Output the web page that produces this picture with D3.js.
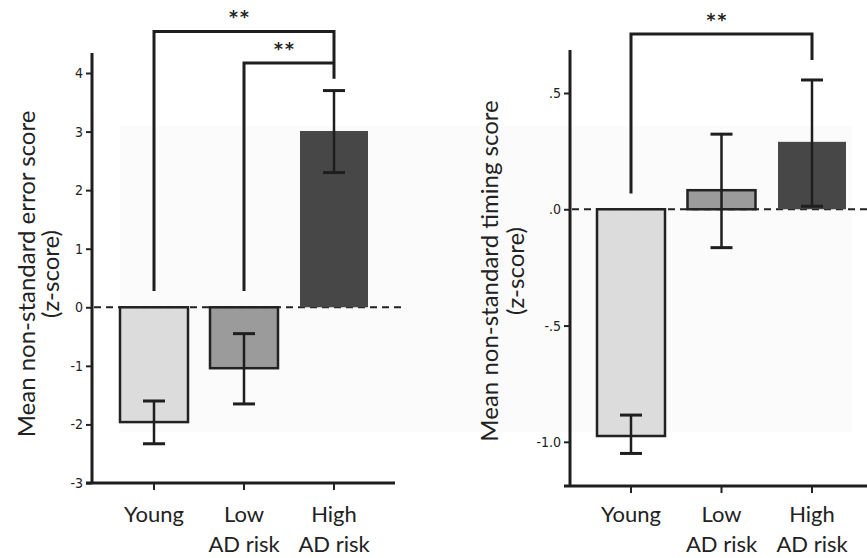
<!DOCTYPE html>
<html>
<head>
<meta charset="utf-8">
<title>Non-standard scores</title>
<script src="https://cdn.jsdelivr.net/npm/d3@7"></script>
<style>
  body { margin: 0; background: #fff; }
  svg { display: block; }
  .lab { font-family: Lato, "Open Sans", sans-serif; font-size: 22px; fill: #222; }
  .ylab { font-size: 24px; }
  .tick text { font-family: "DejaVu Sans Condensed", "Liberation Sans Narrow", sans-serif; font-stretch: condensed; font-size: 14px; fill: #222; }
  .stars { font-family: "DejaVu Sans", sans-serif; font-size: 17px; font-weight: bold; fill: #222; letter-spacing: 2px; }
</style>
</head>
<body>
<div id="chart"></div>
<script>
// groups shared by both panels
var categories = ["Young", "Low AD risk", "High AD risk"];
var catLines = [["Young"], ["Low", "AD risk"], ["High", "AD risk"]];
var barColors = ["#dcdcdc", "#9b9b9b", "#474747"];

// left panel: error score
var errorMeans = [-1.96, -1.04, 3.01];
var errorLow = [-2.33, -1.65, 2.30];
var errorHigh = [-1.60, -0.45, 3.70];
var errorTicks = [-3, -2, -1, 0, 1, 2, 3, 4];
var errorTickLabels = ["-3", "-2", "-1", "0", "1", "2", "3", "4"];

// right panel: timing score
var timingMeans = [-0.975, 0.082, 0.29];
var timingLow = [-1.05, -0.165, 0.013];
var timingHigh = [-0.885, 0.323, 0.556];
var timingTicks = [-1.0, -0.5, 0, 0.5];
var timingTickLabels = ["-1.0", "-.5", ".0", ".5"];

var svg = d3.select("#chart").append("svg").attr("width", 867).attr("height", 558);

// faint scan shading behind both panels
svg.append("rect").attr("x", 120).attr("y", 126).attr("width", 732).attr("height", 306)
    .attr("fill", "#fbfbfb");

function panel(opt) {
    var y = d3.scaleLinear().domain(opt.yDomain).range(opt.yRange);
    var x = d3.scalePoint().domain(categories).range(opt.xRange);
    var g = svg.append("g");
    var bw = 68;

    // zero line, dashed
    g.append("line").attr("x1", opt.axisX0 + 2).attr("x2", opt.axisX1 + 6)
        .attr("y1", y(0)).attr("y2", y(0))
        .attr("stroke", "#222").attr("stroke-width", 2).attr("stroke-dasharray", "7,5");

    // bars
    g.selectAll("rect.bar").data(opt.means).enter().append("rect")
        .attr("class", "bar")
        .attr("x", function(d, i) { return x(categories[i]) - bw / 2; })
        .attr("width", bw)
        .attr("y", function(d) { return y(Math.max(0, d)); })
        .attr("height", function(d) { return Math.abs(y(d) - y(0)); })
        .attr("fill", function(d, i) { return barColors[i]; })
        .attr("stroke", function(d, i) { return i < 2 ? "#222" : "none"; })
        .attr("stroke-width", 2.5);

    // error bars
    var eb = g.selectAll("g.err").data(opt.means).enter().append("g").attr("class", "err")
        .attr("stroke", "#1e1e1e").attr("stroke-width", 2.5);
    eb.append("line")
        .attr("x1", function(d, i) { return x(categories[i]); })
        .attr("x2", function(d, i) { return x(categories[i]); })
        .attr("y1", function(d, i) { return y(opt.lo[i]); })
        .attr("y2", function(d, i) { return y(opt.hi[i]); });
    [opt.lo, opt.hi].forEach(function(arr) {
        eb.append("line")
            .attr("x1", function(d, i) { return x(categories[i]) - 11; })
            .attr("x2", function(d, i) { return x(categories[i]) + 11; })
            .attr("y1", function(d, i) { return y(arr[i]); })
            .attr("y2", function(d, i) { return y(arr[i]); })
            .attr("stroke-width", 3);
    });

    // y axis
    var yAxis = d3.axisLeft(y).tickValues(opt.ticks).tickSize(6).tickPadding(3)
        .tickFormat(function(d, i) { return opt.tickLabels[i]; });
    var ya = g.append("g").attr("transform", "translate(" + opt.axisX0 + ",0)").call(yAxis);
    ya.select(".domain").remove();
    ya.selectAll(".tick line").attr("stroke", "#222").attr("stroke-width", 2);
    g.append("line").attr("x1", opt.axisX0).attr("x2", opt.axisX0)
        .attr("y1", y(opt.yDomain[0])).attr("y2", y(opt.yTop))
        .attr("stroke", "#1e1e1e").attr("stroke-width", 3);

    // x axis
    var xb = y(opt.yDomain[0]);
    g.append("line").attr("x1", opt.axisX0 - 6).attr("x2", opt.axisX1)
        .attr("y1", xb).attr("y2", xb)
        .attr("stroke", "#1e1e1e").attr("stroke-width", 3);
    g.selectAll("line.xt").data(categories).enter().append("line")
        .attr("x1", function(d) { return x(d); }).attr("x2", function(d) { return x(d); })
        .attr("y1", xb).attr("y2", xb + 7)
        .attr("stroke", "#222").attr("stroke-width", 2);
    var xl = g.selectAll("text.xl").data(catLines).enter().append("text")
        .attr("class", "lab").attr("text-anchor", "middle")
        .attr("x", function(d, i) { return x(categories[i]); })
        .attr("y", 522);
    xl.selectAll("tspan").data(function(d) { return d; }).enter().append("tspan")
        .attr("x", function() { return this.parentNode.getAttribute("x"); })
        .attr("dy", function(d, j) { return j === 0 ? 0 : 30; })
        .text(function(d) { return d; });

    // y label
    var yl = g.append("text").attr("class", "lab ylab").attr("text-anchor", "middle")
        .attr("transform", "translate(" + opt.labelX + "," + opt.labelY + ") rotate(-90)");
    yl.append("tspan").attr("x", 0).attr("y", 0).text(opt.label[0]);
    yl.append("tspan").attr("x", 0).attr("y", opt.labelGap).text(opt.label[1]);

    // significance brackets
    opt.brackets.forEach(function(b) {
        var x1 = x(b.from), x2 = x(b.to);
        var p = d3.path();
        p.moveTo(x1, y(b.start));
        p.lineTo(x1, y(b.top));
        p.lineTo(x2, y(b.top));
        if (b.end != null) p.lineTo(x2, y(b.end));
        g.append("path").attr("d", p.toString()).attr("fill", "none")
            .attr("stroke", "#1e1e1e").attr("stroke-width", 3);
        g.append("text").attr("class", "stars").attr("text-anchor", "middle")
            .attr("x", (x1 + x2) / 2 - 4).attr("y", y(b.top) - 8).text("**");
    });
}

panel({
    means: errorMeans, lo: errorLow, hi: errorHigh,
    ticks: errorTicks, tickLabels: errorTickLabels,
    yDomain: [-3, 4], yRange: [483, 73], yTop: 4.34,
    xRange: [154, 334], axisX0: 92, axisX1: 395,
    labelX: 35, labelY: 274, labelGap: 24,
    label: ["Mean non-standard error score", "(z-score)"],
    brackets: [
        { from: "Young", to: "High AD risk", start: 0.28, top: 4.71, end: 3.9 },
        { from: "Low AD risk", to: "High AD risk", start: 0.28, top: 4.17, end: null }
    ]
});

panel({
    means: timingMeans, lo: timingLow, hi: timingHigh,
    ticks: timingTicks, tickLabels: timingTickLabels,
    yDomain: [-1.19, 0.5], yRange: [486, 93], yTop: 0.685,
    xRange: [631, 812], axisX0: 570, axisX1: 867,
    labelX: 498, labelY: 271, labelGap: 26,
    label: ["Mean non-standard timing score", "(z-score)"],
    brackets: [
        { from: "Young", to: "High AD risk", start: 0.068, top: 0.754, end: 0.642 }
    ]
});
</script>
</body>
</html>
